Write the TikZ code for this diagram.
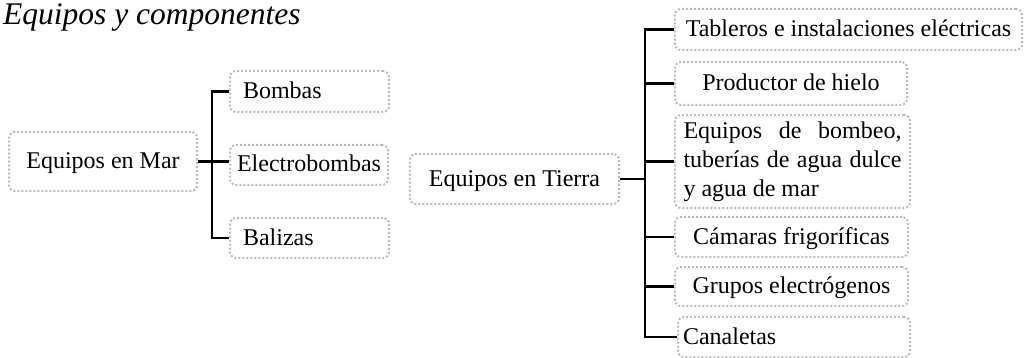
\documentclass[tikz,border=0pt]{standalone}
\usepackage{fontspec}
\setmainfont{Liberation Serif}
\begin{document}
\begin{tikzpicture}[x=1pt,y=-1pt,
  box/.style={draw=black!27, line width=2pt, dash pattern=on 2pt off 2pt, rounded corners=6pt,
    inner sep=0pt, font=\fontsize{24}{29}\selectfont, text height=18pt, text depth=4pt},
  conn/.style={draw=black, line width=2.3pt}]
\useasboundingbox (0,0) rectangle (1025,358);
\node[anchor=base west, inner sep=0pt, font=\fontsize{31.5}{36}\selectfont\itshape] (title) at (3,24.5) {Equipos y componentes};
% left group
\node[box, minimum width=188pt, minimum height=59pt] (mar) at (103,161.5) {Equipos en Mar};
\node[box, minimum width=159pt, minimum height=41pt, text width=133pt, align=left] (bombas) at (309.5,91.5) {Bombas};
\node[box, minimum width=158pt, minimum height=40pt] (electro) at (309,165) {Electrobombas};
\node[box, minimum width=159pt, minimum height=40pt, text width=133pt, align=left] (balizas) at (309.5,238) {Balizas};
\coordinate (lx) at (212,163);
\draw[conn] (mar.east) -- (mar.east -| electro.west);
\draw[conn] (bombas.west) -| (lx) |- (balizas.west);
% right group
\node[box, minimum width=209pt, minimum height=50pt] (tierra) at (514.5,179) {Equipos en Tierra};
\node[box, minimum width=347pt, minimum height=41pt] (tableros) at (848.5,29.5) {Tableros e instalaciones eléctricas};
\node[box, minimum width=232pt, minimum height=43pt] (productor) at (791,83.5) {Productor de hielo};
\node[box, minimum width=235pt, minimum height=93pt, text width=218pt, align=justify, text height=, text depth=] (bombeo) at (792.5,161.5) {Equipos de bombeo, tuberías de agua dulce y agua de mar};
\node[box, minimum width=233pt, minimum height=40pt] (camaras) at (791.5,237) {Cámaras frigoríficas};
\node[box, minimum width=233pt, minimum height=39pt] (grupos) at (791.5,286.5) {Grupos electrógenos};
\node[box, minimum width=232pt, minimum height=40pt, text width=222pt, align=left] (canaletas) at (794,337) {Canaletas};
\coordinate (rx) at (645,179);
\draw[conn] (tierra.east) -- (tierra.east -| rx);
\draw[conn] (tableros.west) -| (rx) |- (canaletas.west);
\draw[conn] (productor.west) -- (productor.west -| rx);
\draw[conn] (bombeo.west) -- (bombeo.west -| rx);
\draw[conn] (camaras.west) -- (camaras.west -| rx);
\draw[conn] (grupos.west) -- (grupos.west -| rx);
\end{tikzpicture}
\end{document}
